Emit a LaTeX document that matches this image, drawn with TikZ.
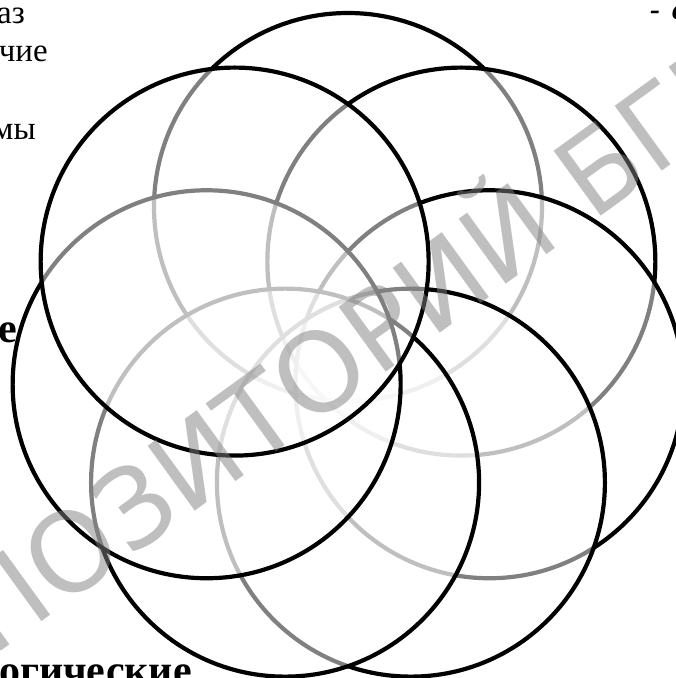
\documentclass[tikz,border=0pt]{standalone}
\usepackage{fontspec}
\newfontfamily\cyrserif{Liberation Serif}
\newfontfamily\wmfont{DejaVu Sans}
\begin{document}
\begin{tikzpicture}[x=1pt,y=1pt,
  ring/.style={draw=black, line width=4.2pt, fill=white, fill opacity=0.5},
  lbl/.style={inner sep=0pt, font=\cyrserif\fontsize{33}{40}\selectfont},
  blbl/.style={inner sep=0pt, font=\cyrserif\bfseries\fontsize{42}{48}\selectfont},
  wmtext/.style={inner sep=0pt, font=\wmfont\fontsize{110}{110}\selectfont, text=black!50, opacity=0.5, rotate=36, anchor=base}]
\useasboundingbox (0,0) rectangle (676,678);
\clip (0,0) rectangle (676,678);
% texts cut by the frame
\node[lbl, anchor=base east] (t1) at (25,654) {аз};
\node[lbl, anchor=base east] (t2) at (48,616) {чие};
\node[lbl, anchor=base east] (t3) at (36,538) {мы};
\node[blbl, anchor=base east] (t4) at (17,335) {е};
\node[blbl, anchor=base east] (t5) at (192,-6) {огические};
\node[inner sep=0pt, anchor=base west, font=\cyrserif\bfseries\itshape\fontsize{30}{36}\selectfont] (t6) at (650,658) {-\hspace{12pt}с};
% rosette of seven circles, drawn clockwise from the top
\coordinate (O) at (348,326);
\foreach \k/\nm in {0/A,1/C,2/E,3/G,4/F,5/D,6/B}{
  \path (O) ++({90-\k*360/7}:145) coordinate (\nm);
  \draw[ring] (\nm) circle[radius=194pt];
}
% watermark
\node[wmtext] (wm) at (356,284) {РЕПОЗИТОРИЙ БГПУ};
\end{tikzpicture}
\end{document}
